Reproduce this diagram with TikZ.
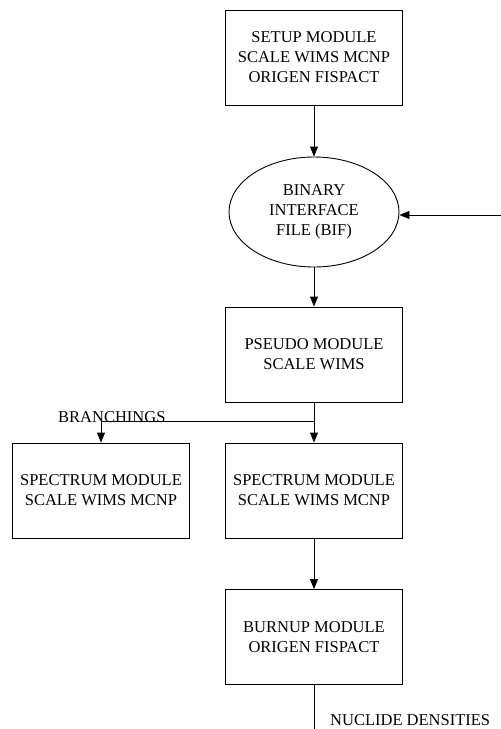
\documentclass[tikz,border=0pt]{standalone}
\usepackage{fontspec}
\setmainfont{Liberation Serif}
\usetikzlibrary{arrows.meta,shapes.geometric}
\begin{document}
\begin{tikzpicture}[x=1pt,y=-1pt,
  every node/.style={font=\fontsize{16.5}{20}\selectfont, inner sep=0pt},
  box/.style={draw, line width=0.9pt, minimum width=177pt, minimum height=95pt, align=center},
  oval/.style={ellipse, draw, line width=0.9pt, minimum width=170pt, minimum height=110pt, align=center},
  conn/.style={line width=0.9pt},
  arr/.style={conn, -{Triangle[length=10pt,width=8pt]}}]
\useasboundingbox (0,0) rectangle (501,729);
\node[box] (setup) at (314,57.5) {SETUP MODULE\\SCALE WIMS MCNP\\ORIGEN FISPACT};
\node[oval] (bif) at (314,212) {BINARY\\INTERFACE\\FILE (BIF)};
\node[box] (pseudo) at (314,354.5) {PSEUDO MODULE\\SCALE WIMS};
\node[box] (specL) at (101,490.5) {SPECTRUM MODULE\\SCALE WIMS MCNP};
\node[box] (specR) at (314,490.5) {SPECTRUM MODULE\\SCALE WIMS MCNP};
\node[box] (burn) at (314,637) {BURNUP MODULE\\ORIGEN FISPACT};
\coordinate (feed) at (501,215);
\coordinate (split) at (314,421);
\coordinate (out) at (314,729);
\node[anchor=base west] (branch) at (58,422) {BRANCHINGS};
\node[anchor=base west] (nuc) at (330,725) {NUCLIDE DENSITIES};
\draw[arr] (setup.south) -- (bif.north);
\draw[arr] (feed) -- (feed -| bif.east);
\draw[arr] (bif.south) -- (pseudo.north);
\draw[arr] (pseudo.south) -- (specR.north);
\draw[arr] (split) -| (specL.north);
\draw[arr] (specR.south) -- (burn.north);
\draw[conn] (burn.south) -- (out);
\end{tikzpicture}
\end{document}
